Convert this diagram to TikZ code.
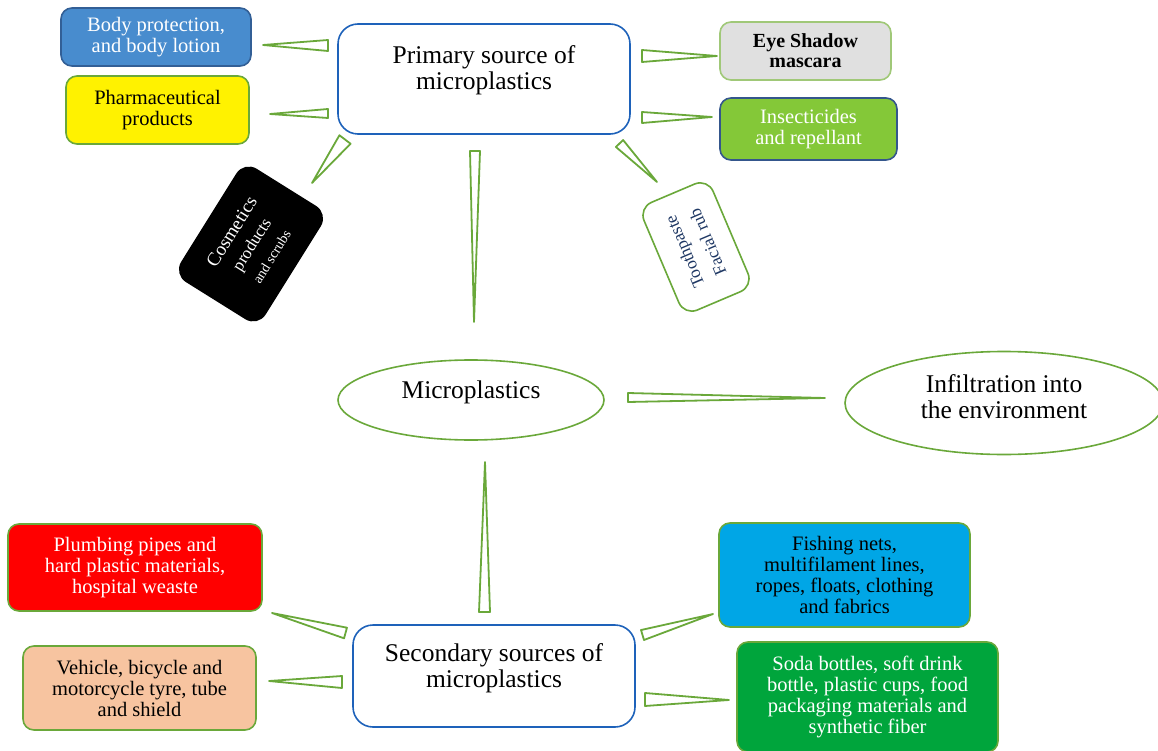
\documentclass[tikz,border=0pt]{standalone}
\usepackage{fontspec}
\setmainfont{Liberation Serif}
\usepackage{tikz}
\usetikzlibrary{shapes,calc}
\definecolor{leafgreen}{RGB}{106,168,58}
\definecolor{srcblue}{RGB}{30,98,186}
\definecolor{lotionblue}{RGB}{72,140,206}
\definecolor{lotionedge}{RGB}{50,95,150}
\definecolor{shadowgrey}{RGB}{224,224,224}
\definecolor{shadowedge}{RGB}{160,200,120}
\definecolor{insectgreen}{RGB}{132,200,56}
\definecolor{insectedge}{RGB}{52,86,140}
\definecolor{toothnavy}{RGB}{31,56,100}
\definecolor{netblue}{RGB}{0,166,230}
\definecolor{sodagreen}{RGB}{0,165,60}
\definecolor{tyrepeach}{RGB}{247,196,160}

% hollow wedge: wide base at #1, point at #2, half width #3
\newcommand{\wedgeconn}[3]{\draw[wedge] ($(#1)!#3!90:(#2)$) -- ($(#1)!#3!-90:(#2)$) -- (#2) -- cycle;}

\begin{document}
\begin{tikzpicture}[
    x=1pt, y=-1pt,
    srcbox/.style={rectangle, rounded corners=20pt, draw=srcblue, line width=1.6pt, fill=white},
    itembox/.style={rectangle, rounded corners=11pt, draw=leafgreen, line width=1.6pt, align=center, inner sep=0pt, font=\fontsize{20.5}{21}\selectfont},
    oval/.style={ellipse, draw=leafgreen, line width=1.6pt, fill=white},
    bigtext/.style={align=center, font=\fontsize{25.5}{26}\selectfont},
    wedge/.style={draw=leafgreen, line width=1.8pt, line join=round, fill=white}
]
\useasboundingbox (0,0) rectangle (1158,751);
\clip (0,0) rectangle (1158,751);

% primary sources
\node[srcbox, minimum width=292pt, minimum height=110pt] (primary) at (484,79) {};
\node[bigtext] (primarytext) at ([yshift=9pt]primary.center) {Primary source of\\microplastics};

\node[itembox, fill=lotionblue, draw=lotionedge, text=white, minimum width=190pt, minimum height=58pt] (lotion) at (156,37) {Body protection,\\and body lotion};
\node[itembox, fill=yellow, minimum width=183pt, minimum height=68pt] (pharma) at (157.5,110) {Pharmaceutical\\products};
\node[itembox, fill=shadowgrey, draw=shadowedge, font=\fontsize{20}{20}\selectfont\bfseries, minimum width=171pt, minimum height=58pt] (shadow) at (805.5,51) {Eye Shadow\\mascara};
\node[itembox, fill=insectgreen, draw=insectedge, text=white, minimum width=177pt, minimum height=62pt] (insect) at (808.5,129) {Insecticides\\and repellant};
\node[itembox, fill=black, draw=black, text=white, rounded corners=14pt, rotate=58, font=\fontsize{19}{23}\selectfont, minimum width=132pt, minimum height=98pt] (cosmetic) at (251,244) {Cosmetics\\{\fontsize{17}{17}\selectfont products}\\{\fontsize{14}{14}\selectfont and scrubs}};
\node[itembox, fill=white, text=toothnavy, rounded corners=14pt, rotate=113, font=\fontsize{17.5}{25}\selectfont, minimum width=117pt, minimum height=75pt] (tooth) at (696,247) {Toothpaste\\Facial rub};

% centre
\node[oval, minimum width=266pt, minimum height=80pt] (micro) at (471,400) {};
\node[bigtext] (microtext) at ([yshift=8pt]micro.center) {Microplastics};
\node[oval, minimum width=318pt, minimum height=103pt] (infil) at (1004,403) {};
\node[bigtext] (infiltext) at ([yshift=6pt]infil.center) {Infiltration into\\the environment};

% secondary sources
\node[srcbox, minimum width=282pt, minimum height=102pt] (secondary) at (494,676) {};
\node[bigtext] (secondarytext) at ([yshift=8pt]secondary.center) {Secondary sources of\\microplastics};

\node[itembox, fill=red, text=white, minimum width=254pt, minimum height=87pt] (plumbing) at (135,567.5) {Plumbing pipes and\\hard plastic materials,\\hospital weaste};
\node[itembox, fill=tyrepeach, minimum width=233pt, minimum height=84pt] (tyre) at (139.5,688) {Vehicle, bicycle and\\motorcycle tyre, tube\\and shield};
\node[itembox, fill=netblue, minimum width=251pt, minimum height=104pt] (nets) at (844.5,575) {Fishing nets,\\multifilament lines,\\ropes, floats, clothing\\and fabrics};
\node[itembox, fill=sodagreen, text=white, minimum width=261pt, minimum height=110pt] (soda) at (867.5,697) {Soda bottles, soft drink\\bottle, plastic cups, food\\packaging materials and\\synthetic fiber};

% wedge ends
\coordinate (lotionbase) at (328,45.5);    \coordinate (lotiontip) at (263,45);
\coordinate (pharmabase) at (328,113.5);   \coordinate (pharmatip) at (270,114);
\coordinate (cosmeticbase) at (345,139.5); \coordinate (cosmetictip) at (312,183);
\coordinate (shadowbase) at (642,56);      \coordinate (shadowtip) at (717,56);
\coordinate (insectbase) at (642,117.5);   \coordinate (insecttip) at (712,117);
\coordinate (toothbase) at (619.5,143.5);  \coordinate (toothtip) at (657,182);
\coordinate (downbase) at (475,151);       \coordinate (downtip) at (474,322);
\coordinate (infilbase) at (628,397.5);    \coordinate (infiltip) at (825,398);
\coordinate (upbase) at (484.5,612);       \coordinate (uptip) at (485,462);
\coordinate (plumbingbase) at (345.5,633); \coordinate (plumbingtip) at (272,613);
\coordinate (tyrebase) at (342,682);       \coordinate (tyretip) at (269,681);
\coordinate (netsbase) at (642.5,635);     \coordinate (netstip) at (713,614);
\coordinate (sodabase) at (645,699.5);     \coordinate (sodatip) at (729,700);

\wedgeconn{lotionbase}{lotiontip}{5.5pt}
\wedgeconn{pharmabase}{pharmatip}{4.5pt}
\wedgeconn{cosmeticbase}{cosmetictip}{7pt}
\wedgeconn{shadowbase}{shadowtip}{6pt}
\wedgeconn{insectbase}{insecttip}{5.5pt}
\wedgeconn{toothbase}{toothtip}{5pt}
\wedgeconn{downbase}{downtip}{5pt}
\wedgeconn{infilbase}{infiltip}{4.5pt}
\wedgeconn{upbase}{uptip}{5.5pt}
\wedgeconn{plumbingbase}{plumbingtip}{5.5pt}
\wedgeconn{tyrebase}{tyretip}{6pt}
\wedgeconn{netsbase}{netstip}{5.2pt}
\wedgeconn{sodabase}{sodatip}{6.5pt}

\end{tikzpicture}
\end{document}
